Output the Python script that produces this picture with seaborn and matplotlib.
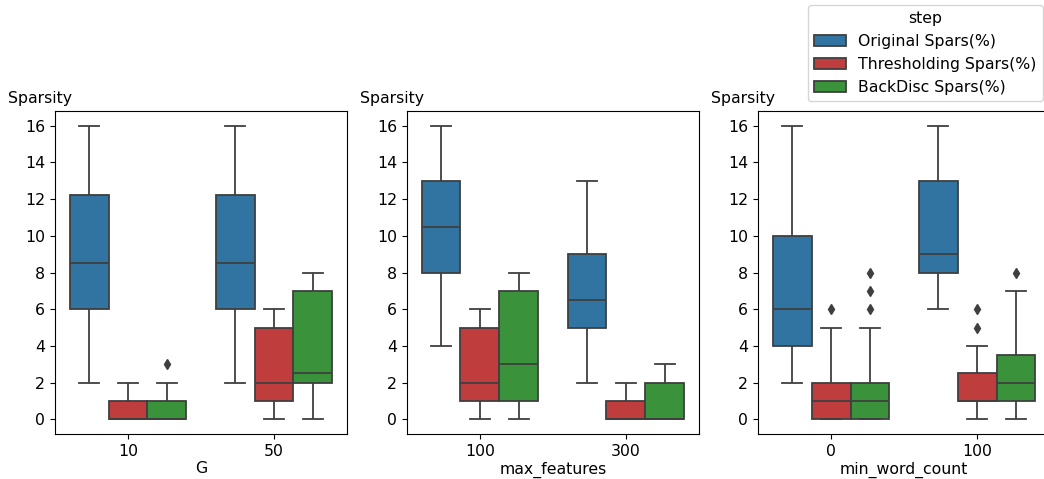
import pandas as pd
import numpy as np
import matplotlib
matplotlib.use("Agg")
import matplotlib.pyplot as plt
import seaborn as sns

# ==========================================
# data (read off the reference boxes)
# ==========================================
steps = ["Original Spars(%)", "Thresholding Spars(%)", "BackDisc Spars(%)"]

# G
g_levels = [10, 50]
g10_orig = [2, 4, 6, 6, 7, 8, 9, 10, 12, 13, 14, 16]
g10_thr = [0, 0, 0, 0, 0, 1, 1, 1, 2]
g10_back = [0, 0, 0, 0, 0, 1, 1, 2, 3]
g50_orig = [2, 4, 6, 6, 7, 8, 9, 10, 12, 13, 14, 16]
g50_thr = [0, 1, 1, 2, 2, 4, 5, 6, 6]
g50_back = [0, 1, 2, 2, 2, 3, 7, 7, 8, 8]

# max_features
mf_levels = [100, 300]
mf100_orig = [4, 6, 8, 8, 10, 11, 13, 13, 15, 16]
mf100_thr = [0, 1, 1, 2, 2, 4, 5, 6, 6]
mf100_back = [0, 1, 1, 2, 3, 5, 7, 8, 8]
mf300_orig = [2, 4, 5, 5, 6, 7, 9, 9, 11, 13]
mf300_thr = [0, 0, 0, 0, 0, 1, 1, 1, 2]
mf300_back = [0, 0, 0, 0, 0, 1, 2, 2, 3]

# min_word_count
mw_levels = [0, 100]
mw0_orig = [2, 3, 4, 5, 6, 8, 10, 12, 16]
mw0_thr = [0, 0, 0, 0, 1, 1, 1, 2, 2, 2, 3, 5, 6]
mw0_back = [0, 0, 0, 0, 0, 1, 1, 1, 1, 2, 2, 2, 2, 5, 6, 7, 8]
mw100_orig = [6, 7, 8, 8, 9, 11, 13, 14, 16]
mw100_thr = [0, 0, 1, 1, 1, 1, 1, 1, 1, 1, 3, 4, 5, 6]
mw100_back = [0, 1, 1, 1, 2, 2, 2, 4, 7, 8]


def long_table(param, levels, groups):
    rows = []
    for lev, series in zip(levels, groups):
        for step, vals in zip(steps, series):
            for v in vals:
                rows.append({param: lev, "step": step, "Sparsity": v})
    return pd.DataFrame(rows)


df_g = long_table("G", g_levels, [(g10_orig, g10_thr, g10_back), (g50_orig, g50_thr, g50_back)])
df_mf = long_table("max_features", mf_levels,
                   [(mf100_orig, mf100_thr, mf100_back), (mf300_orig, mf300_thr, mf300_back)])
df_mw = long_table("min_word_count", mw_levels,
                   [(mw0_orig, mw0_thr, mw0_back), (mw100_orig, mw100_thr, mw100_back)])

# ==========================================
# plot
# ==========================================
plt.rcParams['font.family'] = ['DejaVu Sans']
plt.rcParams['font.size'] = 11.3

palette = ["tab:blue", "tab:red", "tab:green"]
fig = plt.figure(figsize=(10.44, 4.79), dpi=100)

lefts = [0.0527, 0.3898, 0.7261]
axes = [fig.add_axes([l, 0.094, 0.2797, 0.674]) for l in lefts]

for ax, (df, param) in zip(axes, [(df_g, "G"), (df_mf, "max_features"), (df_mw, "min_word_count")]):
    sns.boxplot(data=df, x=param, y="Sparsity", hue="step", hue_order=steps,
                palette=palette, saturation=0.75, linecolor="#3f3f3f", linewidth=1.3,
                flierprops=dict(marker="d", markerfacecolor="#3f3f3f",
                                markeredgecolor="#3f3f3f", markersize=5),
                ax=ax)
    ax.set_yticks(range(0, 17, 2))
    ax.set_ylabel("Sparsity", rotation=0, ha="left", va="bottom")
    ax.yaxis.set_label_coords(-0.16, 1.015)
    ax.set_xlabel(param, labelpad=2)

axes[0].get_legend().remove()
axes[1].get_legend().remove()
sns.move_legend(axes[2], "upper right", bbox_to_anchor=(0.999, 0.99),
                bbox_transform=fig.transFigure, borderaxespad=0, title="step")

fig.savefig("out.png", dpi=100)
